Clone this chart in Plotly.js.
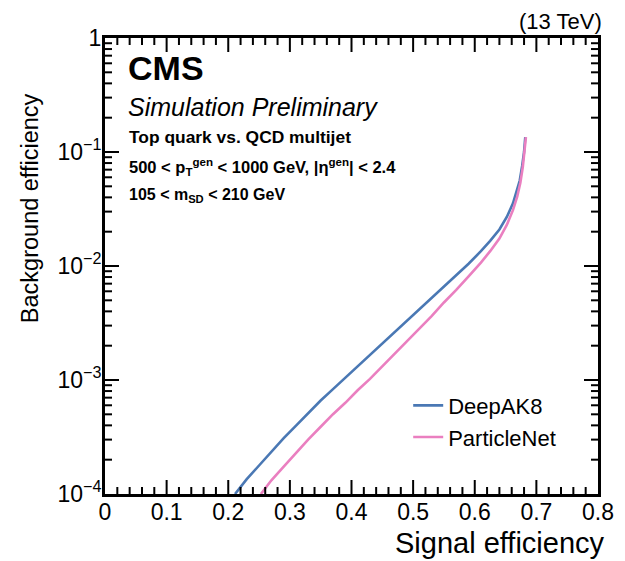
<!DOCTYPE html>
<html>
<head>
<meta charset="utf-8">
<script src="https://cdn.plot.ly/plotly-3.0.1.min.js"></script>
<style>body{margin:0;padding:0;background:#fff}#plot{width:625px;height:561px}</style>
</head>
<body>
<div id="plot"></div>
<script>
// Signal efficiency vs background efficiency (log10 of background efficiency)
const deepak8_sig = [0.211,0.23,0.25,0.27,0.29,0.31,0.33,0.35,0.37,0.39,0.41,0.43,0.45,0.47,0.49,0.51,0.53,0.55,0.57,0.59,0.61,0.625,0.64,0.652,0.662,0.668,0.673,0.677,0.680,0.682];
const deepak8_logbkg = [-4.00,-3.87,-3.75,-3.63,-3.51,-3.40,-3.29,-3.18,-3.08,-2.98,-2.88,-2.78,-2.68,-2.58,-2.48,-2.38,-2.28,-2.18,-2.08,-1.98,-1.87,-1.78,-1.68,-1.57,-1.45,-1.35,-1.25,-1.12,-1.00,-0.87];
const pnet_sig = [0.253,0.27,0.29,0.31,0.33,0.35,0.37,0.39,0.41,0.43,0.45,0.47,0.49,0.51,0.53,0.55,0.57,0.59,0.61,0.625,0.64,0.652,0.662,0.669,0.674,0.678,0.681,0.683];
const pnet_logbkg = [-4.00,-3.88,-3.76,-3.64,-3.52,-3.41,-3.30,-3.20,-3.09,-2.99,-2.88,-2.77,-2.66,-2.55,-2.44,-2.32,-2.21,-2.09,-1.97,-1.87,-1.76,-1.64,-1.51,-1.39,-1.27,-1.13,-1.00,-0.87];
const seriesNames = ["DeepAK8", "ParticleNet"];
const yTickVals = [1e-4, 1e-3, 1e-2, 1e-1, 1];
const yTickText = ["10<sup>−4</sup>", "10<sup>−3</sup>", "10<sup>−2</sup>", "10<sup>−1</sup>", "1"];
const xTickVals = [0, 0.1, 0.2, 0.3, 0.4, 0.5, 0.6, 0.7, 0.8];
const xTickText = ["0", "0.1", "0.2", "0.3", "0.4", "0.5", "0.6", "0.7", "0.8"];
const Y_LOG_RANGE = [-4, 0];
const X_RANGE = [0, 0.8];

// minor tick positions
const xMinor = [];
for (let i = 0; i <= 40; i++) { if (i % 5 !== 0) xMinor.push(i * 0.02); }
const yMinor = [];
for (let e = -4; e < 0; e++) for (let m = 2; m <= 9; m++) yMinor.push(m * Math.pow(10, e));

const W = 625, H = 561, M = {l: 105, r: 27, t: 38, b: 67};
const PW = W - M.l - M.r, PH = H - M.t - M.b;

const FONT = "Liberation Sans, Arial, Helvetica, sans-serif";
const traces = [
  {x: deepak8_sig, y: deepak8_logbkg.map(v => Math.pow(10, v)), name: seriesNames[0], type: "scatter", mode: "lines",
   line: {color: "#4a78b4", width: 2.6}},
  {x: pnet_sig, y: pnet_logbkg.map(v => Math.pow(10, v)), name: seriesNames[1], type: "scatter", mode: "lines",
   line: {color: "#ea7fc0", width: 2.6}}
];

// ROOT-style inside ticks on all four sides, built from the tick arrays (paper coordinates)
const shapes = [];
const tickLine = {color: "#000", width: 2};
function xTick(v, len) {
  const p = (v - X_RANGE[0]) / (X_RANGE[1] - X_RANGE[0]);
  const h = len / PH;
  shapes.push({type: "line", xref: "paper", yref: "paper", x0: p, x1: p, y0: 0, y1: h, line: tickLine, layer: "above"});
  shapes.push({type: "line", xref: "paper", yref: "paper", x0: p, x1: p, y0: 1, y1: 1 - h, line: tickLine, layer: "above"});
}
function yTick(v, len) {
  const p = (Math.log10(v) - Y_LOG_RANGE[0]) / (Y_LOG_RANGE[1] - Y_LOG_RANGE[0]);
  const w = len / PW;
  shapes.push({type: "line", xref: "paper", yref: "paper", y0: p, y1: p, x0: 0, x1: w, line: tickLine, layer: "above"});
  shapes.push({type: "line", xref: "paper", yref: "paper", y0: p, y1: p, x0: 1, x1: 1 - w, line: tickLine, layer: "above"});
}
xTickVals.slice(1, -1).forEach(v => xTick(v, 14));
xMinor.forEach(v => xTick(v, 7));
yTickVals.slice(1, -1).forEach(v => yTick(v, 14));
yMinor.forEach(v => yTick(v, 7));

const layout = {
  width: W, height: H,
  margin: M,
  paper_bgcolor: "#fff", plot_bgcolor: "#fff",
  font: {family: FONT, color: "#000"},
  showlegend: true,
  legend: {x: 0.615, y: 0.24, xanchor: "left", yanchor: "top", bgcolor: "rgba(0,0,0,0)",
           font: {size: 22, family: FONT}, itemwidth: 30, tracegroupgap: 0},
  xaxis: {range: X_RANGE, showgrid: false, zeroline: false, showline: true, linewidth: 3, linecolor: "#000",
          mirror: true, ticks: "",
          tickmode: "array", tickvals: xTickVals, ticktext: xTickText,
          tickfont: {size: 23, family: FONT}, ticklabelstandoff: -5},
  yaxis: {type: "log", range: Y_LOG_RANGE, showgrid: false, zeroline: false, showline: true, linewidth: 3, linecolor: "#000",
          mirror: true, ticks: "",
          tickmode: "array", tickvals: yTickVals, ticktext: yTickText,
          tickfont: {size: 23, family: FONT}, ticklabelstandoff: -4},
  shapes: shapes,
  annotations: [
    {text: "Signal efficiency", xref: "paper", yref: "paper", x: 1.018, y: -0.107, xanchor: "right", yanchor: "middle",
     showarrow: false, font: {size: 29, family: FONT}},
    {text: "Background efficiency", xref: "paper", yref: "paper", x: -0.152, y: 0.627, xanchor: "center", yanchor: "middle",
     textangle: -90, showarrow: false, font: {size: 23.5, family: FONT}},
    {text: "(13 TeV)", xref: "paper", yref: "paper", x: 1.012, y: 1.005, xanchor: "right", yanchor: "bottom",
     showarrow: false, font: {size: 22, family: FONT}},
    {text: "<b>CMS</b>", xref: "paper", yref: "paper", x: 0.043, y: 0.935, xanchor: "left", yanchor: "middle",
     showarrow: false, font: {size: 34, family: FONT}},
    {text: "<i>Simulation Preliminary</i>", xref: "paper", yref: "paper", x: 0.043, y: 0.848, xanchor: "left", yanchor: "middle",
     showarrow: false, font: {size: 25, family: FONT}},
    {text: "<b>Top quark vs. QCD multijet</b>", xref: "paper", yref: "paper", x: 0.045, y: 0.782, xanchor: "left", yanchor: "middle",
     showarrow: false, font: {size: 17.4, family: FONT}},
    {text: "<b>500 < p<sub>T</sub><sup>gen</sup> < 1000 GeV, |η<sup>gen</sup>| < 2.4</b>", xref: "paper", yref: "paper", x: 0.045, y: 0.717, xanchor: "left", yanchor: "middle",
     showarrow: false, font: {size: 16.5, family: FONT}},
    {text: "<b>105 < m<sub>SD</sub> < 210 GeV</b>", xref: "paper", yref: "paper", x: 0.045, y: 0.655, xanchor: "left", yanchor: "middle",
     showarrow: false, font: {size: 16, family: FONT}}
  ]
};

Plotly.newPlot("plot", traces, layout, {displayModeBar: false, staticPlot: true});
</script>
</body>
</html>
